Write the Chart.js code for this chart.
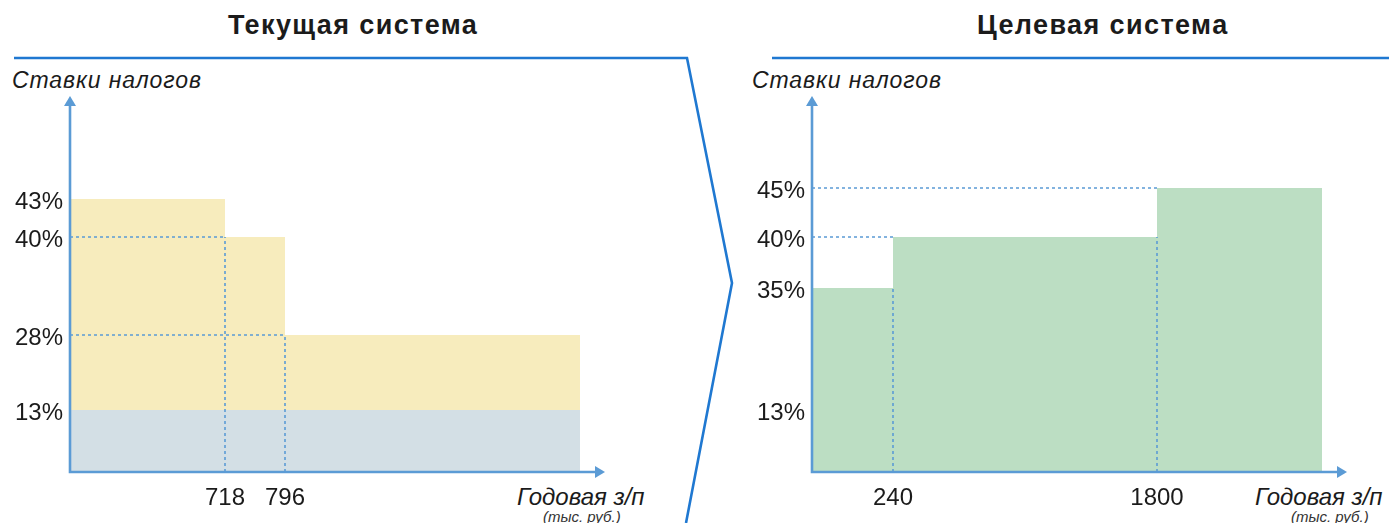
<!DOCTYPE html>
<html>
<head>
<meta charset="utf-8">
<script src="https://cdn.jsdelivr.net/npm/chart.js@4.4.1/dist/chart.umd.min.js"></script>
<style>
  body { margin: 0; width: 1389px; height: 523px; position: relative; overflow: hidden; background: #fff;
         font-family: "Liberation Sans", Arial, sans-serif; color: #1b1b1b; }
  .abs { position: absolute; }
  .title { position: absolute; top: 10px; font-size: 27px; font-weight: bold; letter-spacing: 1.4px; line-height: 30px; white-space: nowrap; }
  .ylab { position: absolute; top: 67px; font-size: 23px; font-style: italic; letter-spacing: 0.9px; line-height: 26px; white-space: nowrap; }
  .xlab { position: absolute; top: 485px; font-size: 24px; font-style: italic; line-height: 24px; white-space: nowrap; }
  .xsub { position: absolute; top: 509px; font-size: 15px; font-style: italic; line-height: 15px; white-space: nowrap; color: #333; }
  .box { position: absolute; top: 0; height: 523px; }
</style>
</head>
<body>

<svg class="abs" width="1389" height="523" style="left:0;top:0">
  <polyline points="14,58 687,58 732,283 686,523" fill="none" stroke="#1f78d1" stroke-width="2.6"/>
  <line x1="772" y1="58" x2="1389" y2="58" stroke="#1f78d1" stroke-width="2.6"/>
</svg>

<div class="title" style="left:228px">Текущая система</div>
<div class="title" style="left:977px">Целевая система</div>
<div class="ylab" style="left:12px">Ставки налогов</div>
<div class="ylab" style="left:752px">Ставки налогов</div>
<div class="xlab" style="left:517px">Годовая з/п</div>
<div class="xsub" style="left:543px">(тыс. руб.)</div>
<div class="xlab" style="left:1255px">Годовая з/п</div>
<div class="xsub" style="left:1291px">(тыс. руб.)</div>

<div class="box" style="left:0;width:700px"><canvas id="currentChart"></canvas></div>
<div class="box" style="left:700px;width:689px"><canvas id="targetChart"></canvas></div>

<script>
// ---- data ----
// current system: income thresholds (thousand rub) and rates between them
const curBreaks = [718, 796];
const curRates = [43, 40, 28];
const curBase = 13;
const curTicks = [13, 28, 40, 43];

// target system
const tgtBreaks = [240, 1800];
const tgtRates = [35, 40, 45];
const tgtTicks = [13, 35, 40, 45];

// ---- layout ----
// the source drawing is schematic, so each axis maps value -> px from origin piecewise
const curXPx = [155, 215];
const curYPx = [62, 137, 235, 273];
const tgtXPx = [81, 345];
const tgtYPx = [62, 184, 235, 284];
const AREA_W = 510, AREA_H = 372;

const AXIS_BLUE = "#5b9bd5";
const FONT = "'Liberation Sans', Arial, sans-serif";

function interp(knots, v) {
  for (let i = 1; i < knots.length; i++) {
    if (v <= knots[i][0] || i === knots.length - 1) {
      const [v0, p0] = knots[i - 1], [v1, p1] = knots[i];
      return p0 + (v - v0) * (p1 - p0) / (v1 - v0);
    }
  }
  return 0;
}

class SchematicScale extends Chart.LinearScale {
  static id = "schematic";
  getPixelForValue(value) {
    const d = interp(this.options.knots, value);
    return this.isHorizontal() ? this.left + d : this.bottom - d;
  }
  getValueForPixel(pixel) {
    const d = this.isHorizontal() ? pixel - this.left : this.bottom - pixel;
    return interp(this.options.knots.map(k => [k[1], k[0]]), d);
  }
}
Chart.register(SchematicScale);

const arrowAxes = {
  id: "arrowAxes",
  afterDatasetsDraw(chart) {
    const { ctx, chartArea: a } = chart;
    const tipX = a.right + 25, tipY = a.top - 4, head = 9, half = 6;
    ctx.save();
    ctx.strokeStyle = AXIS_BLUE;
    ctx.fillStyle = AXIS_BLUE;
    ctx.lineWidth = 2.6;
    ctx.beginPath();
    ctx.moveTo(a.left, tipY + head);
    ctx.lineTo(a.left, a.bottom);
    ctx.lineTo(tipX - head, a.bottom);
    ctx.stroke();
    ctx.beginPath();
    ctx.moveTo(a.left, tipY);
    ctx.lineTo(a.left - half, tipY + head + 1);
    ctx.lineTo(a.left + half, tipY + head + 1);
    ctx.closePath();
    ctx.fill();
    ctx.beginPath();
    ctx.moveTo(tipX, a.bottom);
    ctx.lineTo(tipX - head - 1, a.bottom - half);
    ctx.lineTo(tipX - head - 1, a.bottom + half);
    ctx.closePath();
    ctx.fill();
    ctx.restore();
  }
};

function makePanel(canvasId, p) {
  const xEnd = p.xEnd;
  const starts = [0, ...p.breaks];

  // stepped outline of the rate schedule
  const steps = starts.map((x, i) => ({ x: x, y: p.rates[i] }));
  steps.push({ x: xEnd, y: p.rates[p.rates.length - 1] });

  // dotted guides: horizontal at the next rate, vertical up to the lower rate
  const guides = [];
  p.breaks.forEach((b, i) => {
    const next = p.rates[i + 1];
    guides.push({ x: 0, y: next }, { x: b, y: next }, { x: b, y: null });
    guides.push({ x: b, y: 0 }, { x: b, y: Math.min(p.rates[i], next) }, { x: b, y: null });
  });

  const datasets = [
    { data: guides, borderColor: AXIS_BLUE, borderWidth: 1.6, borderDash: [3, 3], fill: false, spanGaps: false }
  ];
  if (p.base != null) {
    datasets.push({ data: [{ x: 0, y: p.base }, { x: xEnd, y: p.base }],
      borderWidth: 0, borderColor: "transparent", backgroundColor: "#d3dfe5", fill: "origin" });
  }
  datasets.push({ data: steps, stepped: "before", borderWidth: 0, borderColor: "transparent",
    backgroundColor: p.color, fill: "origin" });

  const xKnots = [[0, 0], ...p.breaks.map((b, i) => [b, p.xPx[i]]), [xEnd, AREA_W]];
  const yKnots = [[0, 0], ...p.ticks.map((t, i) => [t, p.yPx[i]]), [55, AREA_H]];

  return new Chart(document.getElementById(canvasId), {
    type: "line",
    data: { datasets: datasets },
    options: {
      responsive: true,
      maintainAspectRatio: false,
      animation: false,
      events: [],
      layout: { padding: { left: 0, top: 100, right: p.padRight, bottom: 0 } },
      elements: { point: { radius: 0 }, line: { tension: 0 } },
      plugins: { legend: { display: false }, tooltip: { enabled: false } },
      scales: {
        x: {
          type: "schematic", knots: xKnots, min: 0, max: xEnd,
          grid: { display: false, drawTicks: false }, border: { display: false },
          afterBuildTicks: s => { s.ticks = p.breaks.map(v => ({ value: v })); },
          afterFit: s => { s.height = 51; },
          ticks: { font: { family: FONT, size: 24 }, color: "#1b1b1b", padding: 12,
                   autoSkip: false, maxRotation: 0, callback: v => String(v) }
        },
        y: {
          type: "schematic", knots: yKnots, min: 0, max: 55,
          grid: { display: false, drawTicks: false }, border: { display: false },
          afterBuildTicks: s => { s.ticks = p.ticks.map(v => ({ value: v })); },
          afterFit: s => { s.width = p.yWidth; },
          ticks: { font: { family: FONT, size: 24 }, color: "#1b1b1b", padding: 7, labelOffset: 3,
                   callback: v => v + "%" }
        }
      }
    },
    plugins: [arrowAxes]
  });
}

makePanel("currentChart", {
  breaks: curBreaks, rates: curRates, base: curBase, ticks: curTicks,
  xPx: curXPx, yPx: curYPx, xEnd: 1000, color: "#f7ecbd", yWidth: 70, padRight: 120
});

makePanel("targetChart", {
  breaks: tgtBreaks, rates: tgtRates, base: null, ticks: tgtTicks,
  xPx: tgtXPx, yPx: tgtYPx, xEnd: 2400, color: "#bcdec3", yWidth: 112, padRight: 67
});
</script>
</body>
</html>
